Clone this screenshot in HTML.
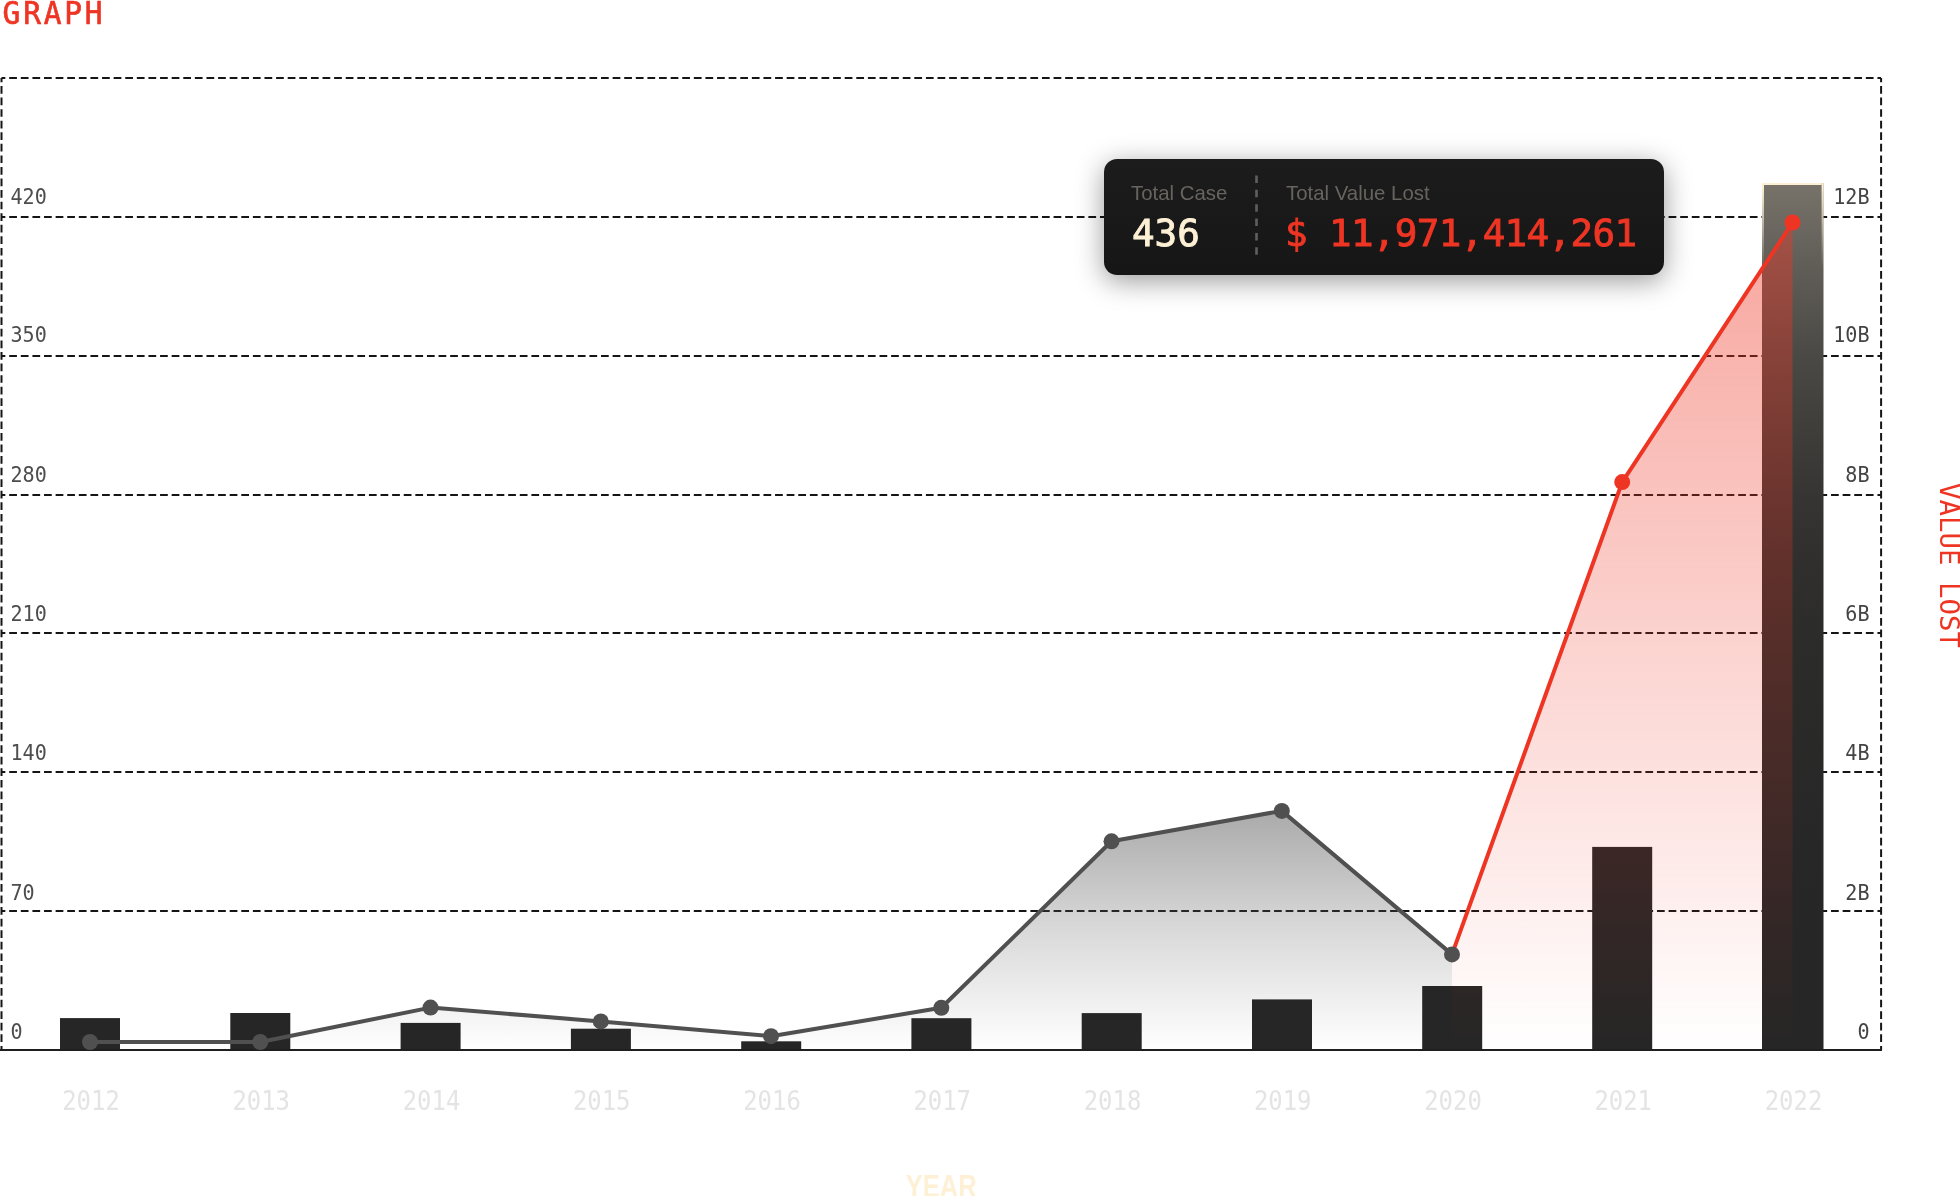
<!DOCTYPE html>
<html><head><meta charset="utf-8">
<style>
html,body{margin:0;padding:0;background:#fff;width:1960px;height:1196px;overflow:hidden;}
#chart{position:absolute;left:0;top:0;will-change:transform;}
#tip{position:absolute;left:1103.5px;top:158.6px;width:560.8px;height:116px;border-radius:13px;
  background:linear-gradient(#1c1c1c,#161616);box-shadow:0 6px 28px rgba(0,0,0,0.4);}
#over{position:absolute;left:0;top:0;will-change:transform;}
.mono{font-family:"DejaVu Sans Mono","Liberation Mono",monospace;}
.sans{font-family:"Liberation Sans",Arial,sans-serif;}
</style></head>
<body>
<svg id="chart" width="1960" height="1196" viewBox="0 0 1960 1196">
<defs>
  <linearGradient id="gArea" gradientUnits="userSpaceOnUse" x1="0" y1="811" x2="0" y2="1050">
    <stop offset="0" stop-color="#555" stop-opacity="0.5"/>
    <stop offset="0.5" stop-color="#555" stop-opacity="0.222"/>
    <stop offset="1" stop-color="#555" stop-opacity="0"/>
  </linearGradient>
  <linearGradient id="rArea" gradientUnits="userSpaceOnUse" x1="0" y1="222.5" x2="0" y2="1050">
    <stop offset="0.05" stop-color="#ee3524" stop-opacity="0.42"/>
    <stop offset="1" stop-color="#ee3524" stop-opacity="0"/>
  </linearGradient>
  <linearGradient id="hiBar" gradientUnits="userSpaceOnUse" x1="0" y1="184" x2="0" y2="1050">
    <stop offset="0" stop-color="#77736a"/>
    <stop offset="0.083" stop-color="#63605a"/>
    <stop offset="0.199" stop-color="#4b4945"/>
    <stop offset="0.273" stop-color="#403f3c"/>
    <stop offset="0.359" stop-color="#363533"/>
    <stop offset="0.434" stop-color="#302f2e"/>
    <stop offset="0.518" stop-color="#2c2c2b"/>
    <stop offset="0.596" stop-color="#2a2a29"/>
    <stop offset="0.711" stop-color="#282828"/>
    <stop offset="0.83" stop-color="#262626"/>
  </linearGradient>
  <linearGradient id="hiStroke" gradientUnits="userSpaceOnUse" x1="0" y1="186" x2="0" y2="268">
    <stop offset="0" stop-color="#fdf0d5" stop-opacity="1"/>
    <stop offset="1" stop-color="#fdf0d5" stop-opacity="0"/>
  </linearGradient>
</defs>

<!-- title -->
<text class="mono" transform="translate(2.6,24.3) scale(0.9,1)" x="0" y="0" font-size="32.8" fill="#ee3524" stroke="#ee3524" stroke-width="0.7" textLength="111" lengthAdjust="spacing">GRAPH</text>

<!-- grid -->
<g stroke="#151515" stroke-width="2" stroke-dasharray="7.736 3.868" stroke-dashoffset="3.9" fill="none">
  <line x1="1.5" y1="78" x2="1881" y2="78"/>
  <line x1="1.5" y1="217" x2="1881" y2="217"/>
  <line x1="1.5" y1="356" x2="1881" y2="356"/>
  <line x1="1.5" y1="495" x2="1881" y2="495"/>
  <line x1="1.5" y1="633" x2="1881" y2="633"/>
  <line x1="1.5" y1="772" x2="1881" y2="772"/>
  <line x1="1.5" y1="911" x2="1881" y2="911"/>
  <line x1="1.5" y1="78" x2="1.5" y2="1050" stroke-dasharray="7.71 3.855" stroke-dashoffset="3.565"/>
  <line x1="1881.1" y1="78" x2="1881.1" y2="1050" stroke-dasharray="7.71 3.855" stroke-dashoffset="3.565"/>
</g>

<!-- left axis labels -->
<g class="mono" font-size="21.2" fill="#4d4d4d">
  <text x="10.5" y="203.6" textLength="36.3" lengthAdjust="spacingAndGlyphs">420</text>
  <text x="10.5" y="342.1" textLength="36.3" lengthAdjust="spacingAndGlyphs">350</text>
  <text x="10.5" y="481.9" textLength="36.3" lengthAdjust="spacingAndGlyphs">280</text>
  <text x="10.5" y="621.2" textLength="36.3" lengthAdjust="spacingAndGlyphs">210</text>
  <text x="10.5" y="760.2" textLength="36.3" lengthAdjust="spacingAndGlyphs">140</text>
  <text x="10.5" y="899.7" textLength="24.2" lengthAdjust="spacingAndGlyphs">70</text>
  <text x="10.5" y="1038.6" textLength="12.1" lengthAdjust="spacingAndGlyphs">0</text>
</g>
<!-- right axis labels -->
<g class="mono" font-size="21.2" fill="#444" text-anchor="end">
  <text x="1869.5" y="203.6" textLength="36.3" lengthAdjust="spacingAndGlyphs">12B</text>
  <text x="1869.5" y="342.1" textLength="36.3" lengthAdjust="spacingAndGlyphs">10B</text>
  <text x="1869.5" y="481.9" textLength="24.2" lengthAdjust="spacingAndGlyphs">8B</text>
  <text x="1869.5" y="621.2" textLength="24.2" lengthAdjust="spacingAndGlyphs">6B</text>
  <text x="1869.5" y="760.2" textLength="24.2" lengthAdjust="spacingAndGlyphs">4B</text>
  <text x="1869.5" y="899.7" textLength="24.2" lengthAdjust="spacingAndGlyphs">2B</text>
  <text x="1869.5" y="1038.6" textLength="12.1" lengthAdjust="spacingAndGlyphs">0</text>
</g>

<!-- gray area -->
<path d="M90 1042 L260.3 1042 L430.5 1007.6 L600.8 1021.4 L771 1036.2 L941.3 1007.8 L1111.5 841.3 L1281.8 810.9 L1452 954.4 L1452 1050 L90 1050 Z" fill="url(#gArea)"/>

<!-- bars -->
<g fill="#262626">
  <rect x="60" y="1018.1" width="60" height="31.9"/>
  <rect x="230.3" y="1013" width="60" height="37"/>
  <rect x="400.6" y="1022.9" width="60" height="27.1"/>
  <rect x="570.9" y="1028.7" width="60" height="21.3"/>
  <rect x="741.2" y="1041.3" width="60" height="8.7"/>
  <rect x="911.4" y="1018.2" width="60" height="31.8"/>
  <rect x="1081.7" y="1013.1" width="60" height="36.9"/>
  <rect x="1252" y="999.4" width="60" height="50.6"/>
  <rect x="1422.2" y="986" width="60" height="64"/>
  <rect x="1592.2" y="846.9" width="60" height="203.1"/>
</g>
<rect x="1762" y="183" width="61.5" height="867" fill="url(#hiBar)"/>
<g fill="url(#hiStroke)">
  <rect x="1762" y="183" width="2" height="120"/>
  <rect x="1821.6" y="183" width="1.9" height="120"/>
  <rect x="1764" y="183" width="57.6" height="2"/>
</g>

<!-- red area -->
<path d="M1452 954.4 L1622.2 482.1 L1792.5 222.5 L1792.5 1050 L1452 1050 Z" fill="url(#rArea)"/>

<!-- axis line -->
<line x1="0" y1="1050" x2="1882" y2="1050" stroke="#1f1f1d" stroke-width="2"/>

<!-- lines -->
<polyline points="90,1042 260.3,1042 430.5,1007.6 600.8,1021.4 771,1036.2 941.3,1007.8 1111.5,841.3 1281.8,810.9 1452,954.4" fill="none" stroke="#505050" stroke-width="4" stroke-linejoin="round"/>
<polyline points="1452,954.4 1622.2,482.1 1792.5,222.5" fill="none" stroke="#ee3524" stroke-width="4" stroke-linejoin="round"/>

<!-- dots -->
<g fill="#505050">
  <circle cx="90" cy="1042" r="8"/>
  <circle cx="260.3" cy="1042" r="8"/>
  <circle cx="430.5" cy="1007.6" r="8"/>
  <circle cx="600.8" cy="1021.4" r="8"/>
  <circle cx="771" cy="1036.2" r="8"/>
  <circle cx="941.3" cy="1007.8" r="8"/>
  <circle cx="1111.5" cy="841.3" r="8"/>
  <circle cx="1281.8" cy="810.9" r="8"/>
  <circle cx="1452" cy="954.4" r="8"/>
</g>
<g fill="#ee3524">
  <circle cx="1622.2" cy="482.1" r="8"/>
  <circle cx="1792.5" cy="222.5" r="8"/>
</g>

<!-- x labels -->
<g class="mono" font-size="27.4" fill="#e4e4e4" text-anchor="middle">
  <text x="91" y="1110.3" textLength="57.6" lengthAdjust="spacingAndGlyphs">2012</text>
  <text x="261.2" y="1110.3" textLength="57.6" lengthAdjust="spacingAndGlyphs">2013</text>
  <text x="431.5" y="1110.3" textLength="57.6" lengthAdjust="spacingAndGlyphs">2014</text>
  <text x="601.7" y="1110.3" textLength="57.6" lengthAdjust="spacingAndGlyphs">2015</text>
  <text x="772" y="1110.3" textLength="57.6" lengthAdjust="spacingAndGlyphs">2016</text>
  <text x="942.2" y="1110.3" textLength="57.6" lengthAdjust="spacingAndGlyphs">2017</text>
  <text x="1112.5" y="1110.3" textLength="57.6" lengthAdjust="spacingAndGlyphs">2018</text>
  <text x="1282.7" y="1110.3" textLength="57.6" lengthAdjust="spacingAndGlyphs">2019</text>
  <text x="1453" y="1110.3" textLength="57.6" lengthAdjust="spacingAndGlyphs">2020</text>
  <text x="1623.2" y="1110.3" textLength="57.6" lengthAdjust="spacingAndGlyphs">2021</text>
  <text x="1793.5" y="1110.3" textLength="57.6" lengthAdjust="spacingAndGlyphs">2022</text>
</g>

<text class="sans" x="941.2" y="1197" font-size="31" font-weight="bold" fill="#fdf0d5" text-anchor="middle" textLength="70.8" lengthAdjust="spacingAndGlyphs">YEAR</text>

<text class="mono" transform="translate(1940,483) rotate(90)" x="0" y="0" font-size="27.4" fill="#ee3524">VALUE LOST</text>
</svg>

<div id="tip"></div>

<svg id="over" width="1960" height="1196" viewBox="0 0 1960 1196">
  <text class="sans" x="1131" y="200" font-size="20.4" fill="#67645f">Total Case</text>
  <text class="sans" x="1286" y="200" font-size="20.4" fill="#67645f">Total Value Lost</text>
  <text class="mono" x="1132" y="246.3" font-size="37.6" fill="#fdf0d5" stroke="#fdf0d5" stroke-width="0.9" textLength="67.8" lengthAdjust="spacing">436</text>
  <text class="mono" x="1285" y="246.3" font-size="37.6" fill="#ee3524" stroke="#ee3524" stroke-width="0.9" textLength="352" lengthAdjust="spacing">$ 11,971,414,261</text>
  <line x1="1256.5" y1="175.5" x2="1256.5" y2="256" stroke="#5f5f5f" stroke-width="2.6" stroke-dasharray="7.5 6.85"/>
</svg>
</body></html>
